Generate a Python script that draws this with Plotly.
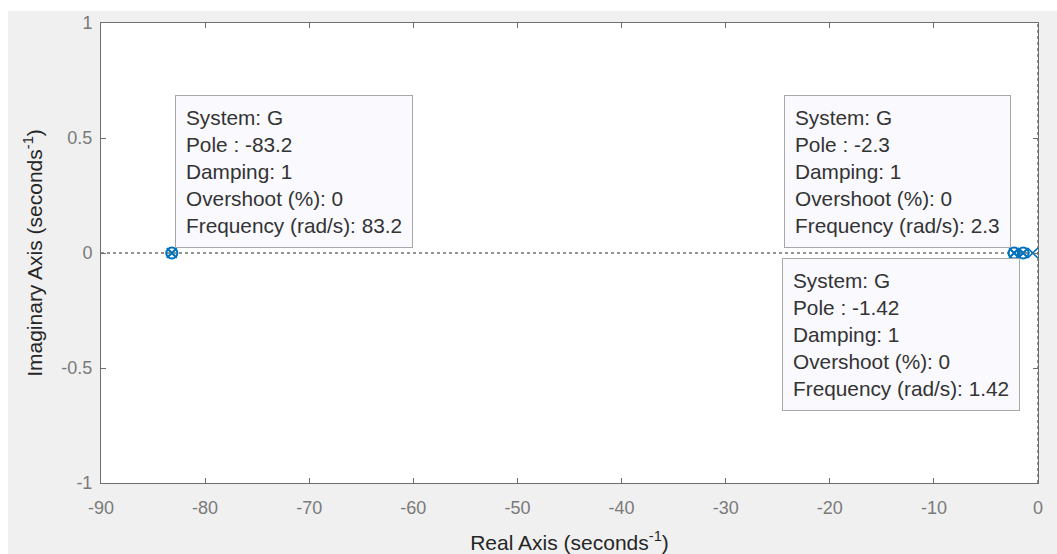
import plotly.graph_objects as go

# Poles of G (real axis, seconds^-1)
pole_re = [-83.2, -2.3, -1.42, -0.5]
pole_im = [0, 0, 0, 0]

# Poles that carry a data tip
tip_re = [-83.2, -2.3, -1.42]
tip_im = [0, 0, 0]
tip_damping = [1, 1, 1]
tip_overshoot = [0, 0, 0]
tip_freq = [83.2, 2.3, 1.42]
tip_pole_text = ["-83.2", "-2.3", "-1.42"]
tip_freq_text = ["83.2", "2.3", "1.42"]

x_ticks = [-90, -80, -70, -60, -50, -40, -30, -20, -10, 0]
y_ticks = [-1, -0.5, 0, 0.5, 1]

blue = "#0072BD"
ax_col = "#262626"

fig = go.Figure()

# dotted reference axes through the origin
fig.add_trace(go.Scatter(x=[-90, 0], y=[0, 0], mode="lines",
                         line=dict(color=ax_col, width=1, dash="dot"),
                         hoverinfo="skip", showlegend=False))
fig.add_trace(go.Scatter(x=[0, 0], y=[-1, 1], mode="lines",
                         line=dict(color=ax_col, width=1, dash="dot"),
                         hoverinfo="skip", showlegend=False))

# pole markers
fig.add_trace(go.Scatter(x=pole_re, y=pole_im, mode="markers",
                         marker=dict(symbol="x-thin-open", size=10, color=blue,
                                     line=dict(color=blue, width=1.6)),
                         showlegend=False, cliponaxis=True))
# data tip markers
fig.add_trace(go.Scatter(x=tip_re, y=tip_im, mode="markers",
                         marker=dict(symbol="circle-x-open", size=11, color=blue,
                                     line=dict(color=blue, width=2)),
                         showlegend=False))

font = "Liberation Sans, Arial, Helvetica, sans-serif"

# data tip placement: (xanchor, yanchor, xshift, yshift)
placement = [("left", "bottom", 3, 5), ("right", "bottom", -3, 5), ("right", "top", -3, -5)]

for i in range(len(tip_re)):
    txt = ("System: G<br>"
           f"Pole : {tip_pole_text[i]}<br>"
           f"Damping: {tip_damping[i]}<br>"
           f"Overshoot (%): {tip_overshoot[i]}<br>"
           f"Frequency (rad/s): {tip_freq_text[i]}")
    xa, ya, xs, ys = placement[i]
    fig.add_annotation(x=tip_re[i], y=tip_im[i], xref="x", yref="y",
                       text=txt, showarrow=False, align="left",
                       xanchor=xa, yanchor=ya, xshift=xs, yshift=ys,
                       font=dict(family=font, size=20.8, color="#333333"),
                       bgcolor="#f9f9fe", bordercolor="#a8a8a8",
                       borderwidth=1, borderpad=10)

# gray figure background with white axes area
fig.add_shape(type="rect", xref="paper", yref="paper",
              x0=(8 - 101) / 937, x1=(1057 - 101) / 937,
              y0=-71 / 460, y1=(554 - 11 - 71) / 460,
              fillcolor="#f0f0f0", line=dict(width=0), layer="below")
fig.add_shape(type="rect", xref="paper", yref="paper",
              x0=0, x1=1, y0=0, y1=1,
              fillcolor="white", line=dict(width=0), layer="below")

axis_common = dict(showgrid=False, zeroline=False, showline=True,
                   linecolor="#6e6e6e", linewidth=1, mirror="ticks",
                   ticks="inside", ticklen=5, tickcolor="#6e6e6e",
                   automargin=False,
                   tickfont=dict(family=font, size=18, color="#7a7a7a"))

fig.update_xaxes(range=[-90, 0], tickvals=x_ticks,
                 ticktext=[str(v) for v in x_ticks], ticklabelstandoff=8,
                 title=dict(text="Real Axis (seconds<sup>-1</sup>)", standoff=18,
                            font=dict(family=font, size=21, color=ax_col)),
                 **axis_common)
fig.update_yaxes(range=[-1, 1], tickvals=y_ticks,
                 ticktext=["-1", "-0.5", "0", "0.5", "1"], ticklabelstandoff=4,
                 title=dict(text="Imaginary Axis (seconds<sup>-1</sup>)", standoff=13,
                            font=dict(family=font, size=21, color=ax_col)),
                 **axis_common)

fig.update_layout(width=1057, height=554,
                  margin=dict(l=101, r=19, t=23, b=71),
                  paper_bgcolor="white", plot_bgcolor="white",
                  showlegend=False)

fig.write_html("out.html")
